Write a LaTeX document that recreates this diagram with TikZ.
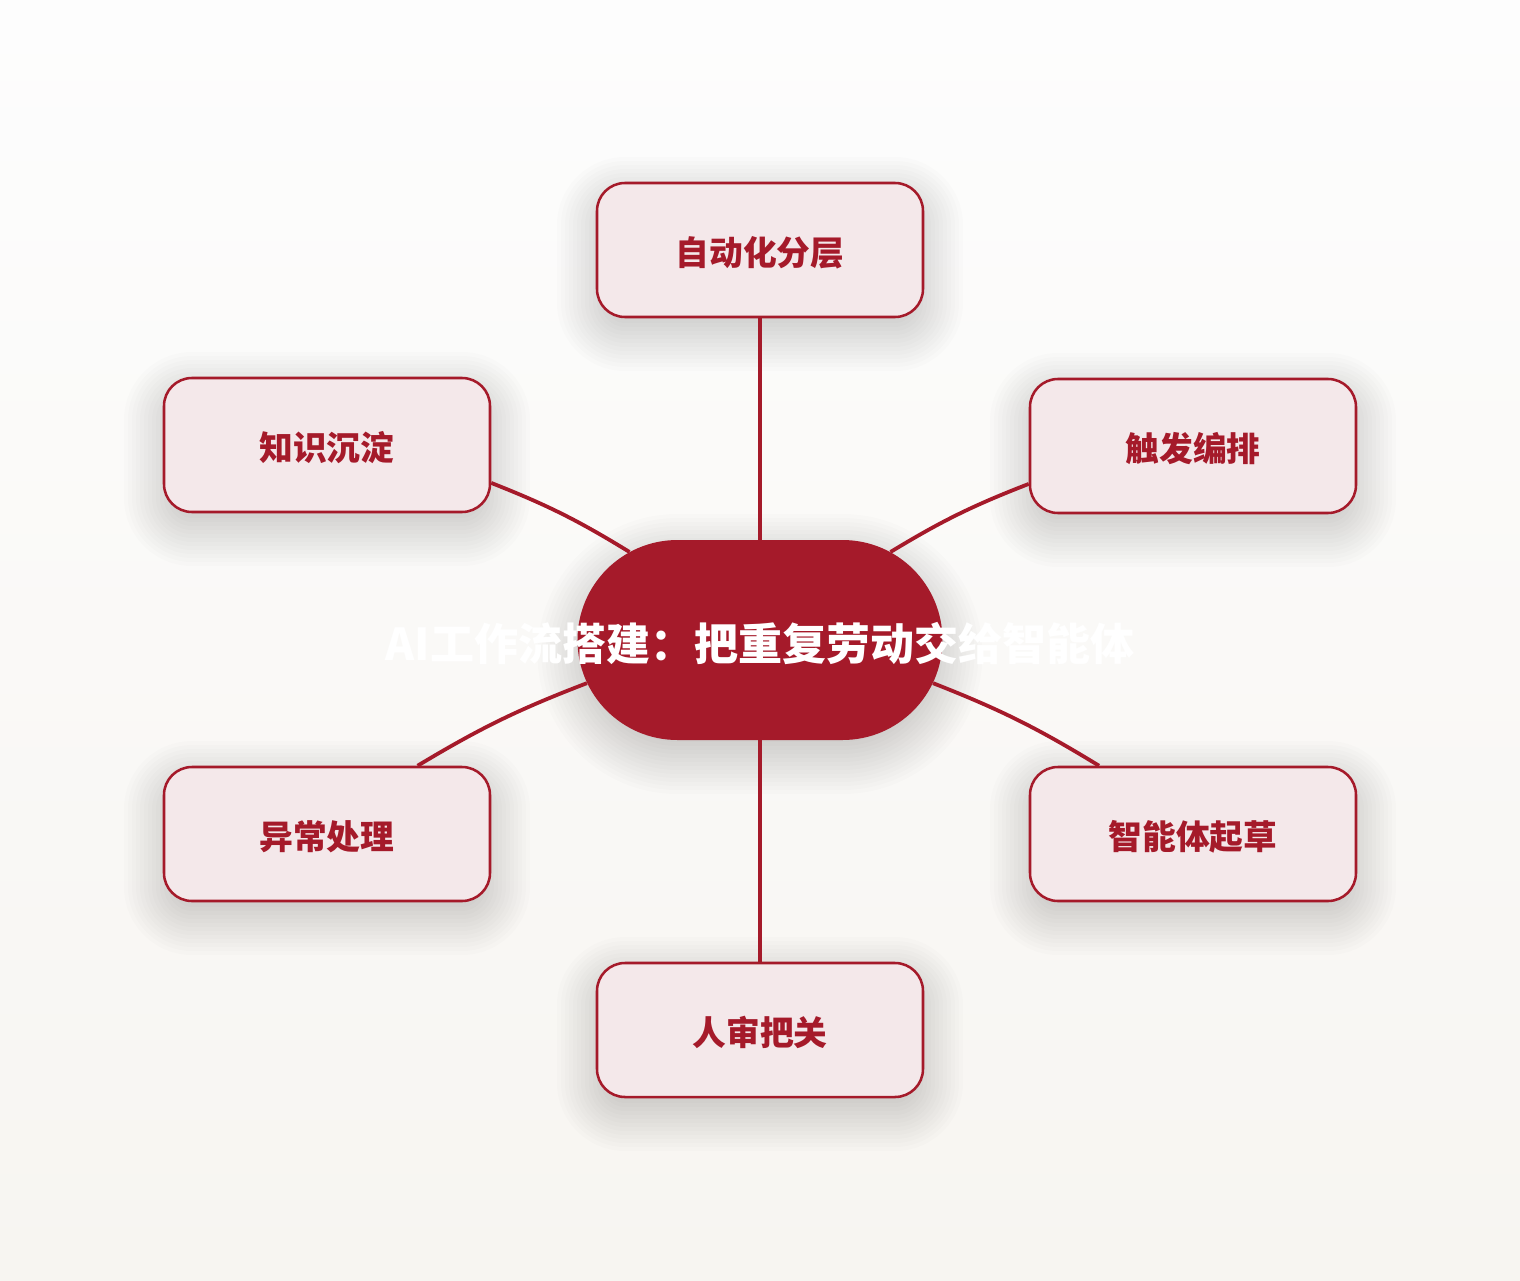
\documentclass[tikz,border=0pt]{standalone}
\usepackage{fontspec}
\newfontfamily\cjk{Noto Sans CJK SC}
\usetikzlibrary{positioning,shapes.misc}
\definecolor{brand}{HTML}{A51A2A}
\definecolor{leaffill}{HTML}{F4E8EA}
\definecolor{bgtop}{HTML}{FDFDFD}
\definecolor{bgbot}{HTML}{F7F5F1}
\pgfdeclarelayer{back}
\pgfsetlayers{back,main}

\begin{document}
\begin{tikzpicture}[%
		node distance=5.575cm,
		hub/.style={%
			rounded rectangle,
			minimum width=9.125cm,
			minimum height=5cm,
			inner sep=0pt,
			fill=brand
		},
		leaf/.style={%
			rectangle,
			rounded corners=0.7cm,
			minimum width=8.15cm,
			minimum height=3.35cm,
			draw=brand,
			line width=1.8pt,
			fill=leaffill,
			text=brand,
			text height=22pt,
			text depth=0pt,
			font=\cjk\bfseries\fontsize{24pt}{28pt}\selectfont
		},
		spoke/.style={draw=brand, line width=2.7pt},
		haze/.style={fill=black, opacity=0.012}
		]
		\node[hub] (hub) at (0,0)                                     {};
		\node[text=white, font=\cjk\bfseries\fontsize{31.3pt}{36pt}\selectfont] (title) at (0,-0.075) {AI工作流搭建：把重复劳动交给智能体};
		\node[leaf] (layer) at (0,9.75)                               {自动化分层};
		\node[leaf] (review) at (0,-9.75)                             {人审把关};
		\node[leaf] (store) at (-10.825,4.875)                        {知识沉淀};
		\node[leaf] (trigger) at (10.825,4.85)                        {触发编排};
		\node[leaf] (fault) at (-10.825,-4.85)                        {异常处理};
		\node[leaf] (draft) at (10.825,-4.85)                         {智能体起草};

		\path[spoke] (layer) edge                                     (hub)
		(store.-13) edge [bend left=5]                                (hub.146)
		(trigger.193) edge [bend right=5]                             (hub.34)
		(fault.37) edge [bend left=5]                                 (hub.194)
		(draft.144) edge [bend right=5]                               (hub.-14)
		(hub) edge                                                    (review);

		% paper and soft shadows
		\begin{pgfonlayer}{back}
			\shade[top color=bgtop, bottom color=bgbot] (-19,16) rectangle (19,-16);
			\foreach \n/\w/\h/\rc in {hub/4.5625/2.5/2.5, layer/4.075/1.675/0.7,
				review/4.075/1.675/0.7, store/4.075/1.675/0.7, trigger/4.075/1.675/0.7,
				fault/4.075/1.675/0.7, draft/4.075/1.675/0.7}
			\foreach \r in {-0.4,-0.3,...,1.0} {
				\pgfmathsetmacro\rad{max(\rc+\r,0.05)}
				\fill[haze, shift={(\n.center)}, rounded corners=\rad cm]
				(-\w-\r,-\h-\r-0.35) rectangle (\w+\r,\h+\r-0.35);
			}
		\end{pgfonlayer}
		\end{tikzpicture}
\end{document}
